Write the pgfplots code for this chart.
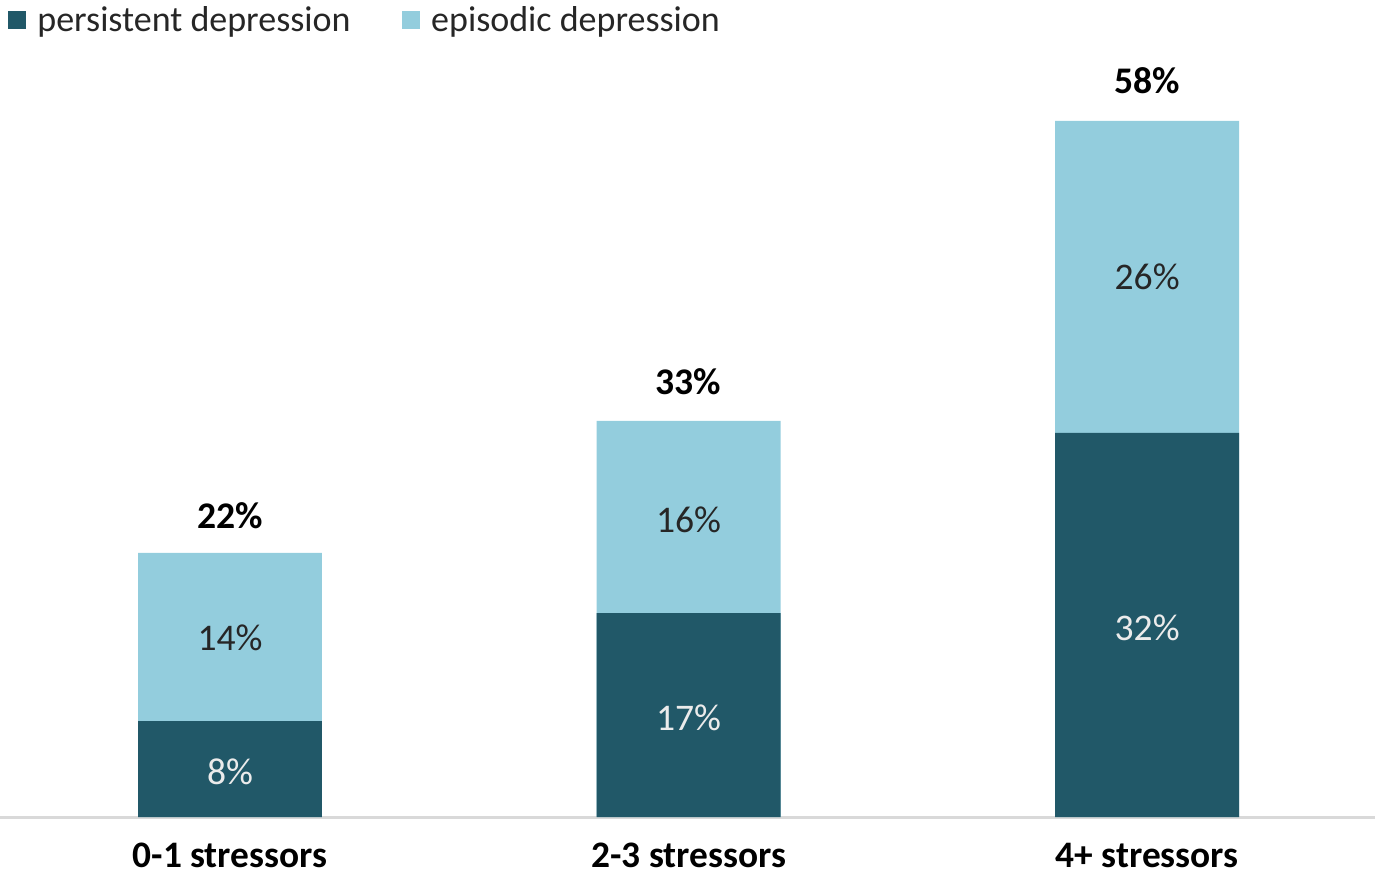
\documentclass[border=0pt]{standalone}
\usepackage{pgfplots}
\pgfplotsset{compat=1.18}
\usepackage{fontspec}
\setmainfont{Carlito}
\definecolor{darkteal}{HTML}{215868}
\definecolor{lightblue}{HTML}{93CDDD}
\definecolor{axisgray}{HTML}{D9D9D9}
\definecolor{txt}{HTML}{262626}
\begin{document}
\begin{tikzpicture}
\begin{axis}[
  scale only axis,
  width=687.5pt, height=408.5pt,
  xmin=-0.5016, xmax=2.497,
  ymin=0, ymax=68.083,
  axis y line=none,
  axis x line*=bottom,
  x axis line style={draw=axisgray, line width=1.5pt, -},
  xtick={0,1,2},
  xticklabels={0-1 stressors, 2-3 stressors, 4+ stressors},
  major tick length=0pt,
  xticklabel style={font=\fontsize{18.7}{20}\selectfont\bfseries, text=black, inner sep=0pt, anchor=north, yshift=-13pt},
  clip=false,
  legend style={at={(0,1)}, anchor=north west, draw=none, fill=none, inner sep=0pt,
    font=\fontsize{18}{20}\selectfont, text=txt, legend columns=2,
    /tikz/every odd column/.append style={column sep=3.5pt},
    /tikz/every even column/.append style={column sep=23.8pt}, yshift=-1pt, xshift=4pt},
  legend image code/.code={\fill[#1, draw=none] (0pt,-4.5pt) rectangle (9pt,4.5pt);},
]
\addplot[ybar, bar width=0.401, bar shift=0pt, fill=lightblue, draw=none, forget plot]
  coordinates {(0,22) (1,33) (2,58)};
\addplot[ybar, bar width=0.401, bar shift=0pt, fill=darkteal, draw=none, forget plot]
  coordinates {(0,8) (1,17) (2,32)};
% legend entries
\addlegendimage{fill=darkteal}
\addlegendentry{persistent depression}
\addlegendimage{fill=lightblue}
\addlegendentry{episodic depression}
% labels in dark segments
\addplot[draw=none, mark=none, nodes near coords, point meta=explicit symbolic,
  every node near coord/.style={anchor=center, font=\fontsize{18.8}{20}\selectfont, text=white!92!black}]
  coordinates {(0,3.75)[8\%] (1,8.25)[17\%] (2,15.8)[32\%]};
% labels in light segments
\addplot[draw=none, mark=none, nodes near coords, point meta=explicit symbolic,
  every node near coord/.style={anchor=center, font=\fontsize{18.8}{20}\selectfont, text=txt}]
  coordinates {(0,14.9)[14\%] (1,24.8)[16\%] (2,45)[26\%]};
% totals
\addplot[draw=none, mark=none, nodes near coords, point meta=explicit symbolic,
  every node near coord/.style={anchor=center, font=\fontsize{18.8}{20}\selectfont\bfseries, text=black}]
  coordinates {(0,25.1)[22\%] (1,36.25)[33\%] (2,61.4)[58\%]};
\end{axis}
\pgfresetboundingbox
\useasboundingbox (0,-31pt) rectangle (687.5pt,408.5pt);
\end{tikzpicture}
\end{document}
